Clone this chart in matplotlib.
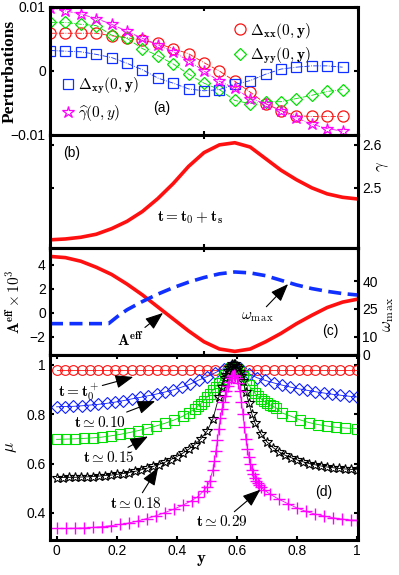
import numpy as np
import matplotlib
matplotlib.use("Agg")
import matplotlib.pyplot as plt
from matplotlib.lines import Line2D

plt.rcParams["font.family"] = ["Liberation Sans", "DejaVu Sans"]
plt.rcParams["mathtext.fontset"] = "cm"
plt.rcParams["font.size"] = 10

# ---------------- panel (a): perturbations ----------------
y_a = [0.00, 0.05, 0.10, 0.15, 0.20, 0.25, 0.30, 0.35, 0.40, 0.45,
       0.50, 0.55, 0.60, 0.65, 0.70, 0.75, 0.80, 0.85, 0.90, 0.95]
dxx = [0.0059, 0.0059, 0.0059, 0.0059, 0.0055, 0.0052, 0.0048, 0.0043, 0.0035, 0.0027,
       0.0013, 0.0000, -0.0016, -0.0033, -0.0051, -0.0062, -0.0070, -0.0071, -0.0071, -0.0071]
dyy = [0.0076, 0.0076, 0.0073, 0.0071, 0.0056, 0.0051, 0.0035, 0.0024, 0.0011, -0.0005,
       -0.0019, -0.0029, -0.0046, -0.0051, -0.0048, -0.0048, -0.0043, -0.0038, -0.0032, -0.0029]
dxy = [0.0032, 0.0031, 0.0030, 0.0026, 0.0021, 0.0012, 0.0002, -0.0011, -0.0019, -0.0028,
       -0.0031, -0.0029, -0.0021, -0.0015, -0.0005, 0.0003, 0.0006, 0.0008, 0.0008, 0.0006]
ghat = [0.0098, 0.0094, 0.0089, 0.0082, 0.0073, 0.0062, 0.0051, 0.0041, 0.0030, 0.0016,
        0.0000, -0.0016, -0.0027, -0.0043, -0.0051, -0.0062, -0.0073, -0.0083, -0.0090, -0.0094]

# ---------------- panel (b): gamma ----------------
y_b = [0.00, 0.05, 0.10, 0.15, 0.20, 0.25, 0.30, 0.35, 0.40, 0.45, 0.50,
       0.55, 0.60, 0.65, 0.70, 0.75, 0.80, 0.85, 0.90, 0.95, 1.00]
gamma = [2.379, 2.381, 2.385, 2.392, 2.405, 2.422, 2.445, 2.475, 2.510, 2.550, 2.582,
         2.600, 2.605, 2.595, 2.568, 2.541, 2.519, 2.500, 2.486, 2.478, 2.474]

# ---------------- panel (c): A_eff and omega_max ----------------
y_c = y_b
aeff = [4.70, 4.60, 4.30, 3.80, 3.20, 2.40, 1.50, 0.50, -0.50, -1.50, -2.40,
        -3.00, -3.20, -3.00, -2.40, -1.70, -0.90, -0.20, 0.45, 0.90, 1.15]
y_w = [0.00, 0.05, 0.10, 0.15, 0.19, 0.22, 0.25, 0.30, 0.35, 0.40, 0.45, 0.50,
       0.55, 0.60, 0.65, 0.70, 0.75, 0.80, 0.85, 0.90, 0.95, 1.00]
wmax = [17.0, 17.0, 17.0, 17.0, 17.0, 21.0, 24.5, 29.0, 33.0, 36.5, 39.5, 42.0,
        44.0, 45.0, 44.5, 43.0, 40.5, 38.0, 36.0, 34.5, 33.3, 32.5]

# ---------------- panel (d): mu ----------------
y_d1 = [k / 36 for k in range(37)]
mu_t0 = [0.978] * 37
mu_010 = [0.830, 0.831, 0.832, 0.834, 0.837, 0.840, 0.844, 0.849, 0.855, 0.862,
          0.868, 0.875, 0.882, 0.890, 0.899, 0.910, 0.922, 0.938, 0.952, 0.968,
          0.985, 0.995, 0.988, 0.965, 0.948, 0.937, 0.927, 0.918, 0.910, 0.903,
          0.897, 0.891, 0.886, 0.881, 0.877, 0.873, 0.870]

y_d15 = [0, 0.03, 0.06, 0.09, 0.12, 0.15, 0.18, 0.21, 0.24, 0.27, 0.30, 0.33, 0.36,
         0.39, 0.42, 0.44, 0.46, 0.47, 0.48, 0.49, 0.50, 0.51, 0.52, 0.53, 0.54, 0.55,
         0.56, 0.57, 0.58, 0.59, 0.60, 0.61, 0.62, 0.63, 0.64, 0.65, 0.66, 0.67, 0.68,
         0.69, 0.70, 0.71, 0.72, 0.73, 0.75, 0.78, 0.81, 0.84, 0.87, 0.90, 0.93, 0.96, 1.0]
mu_015 = [0.698, 0.699, 0.700, 0.702, 0.704, 0.707, 0.712, 0.718, 0.725, 0.733, 0.742,
          0.752, 0.763, 0.776, 0.792, 0.806, 0.822, 0.832, 0.843, 0.855, 0.868, 0.882,
          0.897, 0.912, 0.928, 0.944, 0.960, 0.975, 0.986, 0.990, 0.985, 0.972, 0.955,
          0.937, 0.918, 0.900, 0.885, 0.872, 0.862, 0.853, 0.845, 0.838, 0.832, 0.826,
          0.805, 0.792, 0.777, 0.766, 0.758, 0.752, 0.747, 0.744, 0.741]

y_d18 = [0, 0.02, 0.04, 0.06, 0.08, 0.10, 0.12, 0.14, 0.16, 0.18, 0.20, 0.22, 0.24,
         0.26, 0.28, 0.30, 0.32, 0.34, 0.36, 0.38, 0.40, 0.42, 0.44, 0.46, 0.48, 0.50,
         0.52, 0.54, 0.55, 0.56, 0.565, 0.57, 0.575, 0.58, 0.585, 0.59, 0.595, 0.60,
         0.605, 0.61, 0.615, 0.62, 0.63, 0.64, 0.65, 0.66, 0.68, 0.70, 0.72, 0.74, 0.76,
         0.78, 0.80, 0.82, 0.84, 0.86, 0.88, 0.90, 0.92, 0.94, 0.96, 0.98, 1.0]
mu_018 = [0.543, 0.543, 0.544, 0.544, 0.545, 0.546, 0.547, 0.549, 0.551, 0.553, 0.556,
          0.559, 0.563, 0.568, 0.574, 0.581, 0.588, 0.596, 0.605, 0.616, 0.628, 0.642,
          0.658, 0.677, 0.700, 0.730, 0.780, 0.870, 0.910, 0.945, 0.960, 0.975, 0.988,
          0.997, 1.003, 1.005, 1.003, 0.997, 0.987, 0.972, 0.955, 0.935, 0.890, 0.845,
          0.800, 0.765, 0.720, 0.688, 0.665, 0.647, 0.634, 0.624, 0.615, 0.607, 0.600,
          0.595, 0.590, 0.586, 0.583, 0.580, 0.578, 0.576, 0.575]

y_d29 = [0, 0.03, 0.06, 0.09, 0.12, 0.15, 0.18, 0.21, 0.24, 0.27, 0.30, 0.33, 0.36,
         0.39, 0.42, 0.45, 0.47, 0.49, 0.50, 0.51, 0.52, 0.525, 0.53, 0.535, 0.54,
         0.545, 0.55, 0.555, 0.56, 0.565, 0.57, 0.575, 0.58, 0.585, 0.59, 0.595, 0.60,
         0.605, 0.61, 0.615, 0.62, 0.625, 0.63, 0.635, 0.64, 0.645, 0.65, 0.655, 0.66,
         0.665, 0.67, 0.675, 0.68, 0.69, 0.71, 0.74, 0.77, 0.80, 0.83, 0.86, 0.89,
         0.92, 0.95, 0.98, 1.0]
mu_029 = [0.337, 0.337, 0.338, 0.339, 0.341, 0.344, 0.348, 0.353, 0.359, 0.367, 0.377,
          0.388, 0.401, 0.415, 0.431, 0.450, 0.466, 0.490, 0.505, 0.530, 0.575, 0.610,
          0.650, 0.695, 0.740, 0.785, 0.820, 0.850, 0.875, 0.895, 0.915, 0.930, 0.945,
          0.955, 0.958, 0.955, 0.945, 0.925, 0.895, 0.850, 0.800, 0.750, 0.700, 0.660,
          0.625, 0.598, 0.575, 0.556, 0.542, 0.530, 0.520, 0.512, 0.505, 0.494, 0.476,
          0.455, 0.437, 0.420, 0.406, 0.395, 0.387, 0.380, 0.375, 0.371, 0.370]

RED, GREEN, BLUE, MAG = "#ff1010", "#00e000", "#1030ff", "#ff00ff"
BOLD = dict(fontsize=11)
ARROW = dict(arrowstyle="-|>,head_length=1.0,head_width=0.38", color="k", lw=0.8,
             shrinkA=0, shrinkB=0)


def style(ax, lw=2.2):
    for s in ax.spines.values():
        s.set_linewidth(lw)
    ax.tick_params(direction="in", length=3, width=1.5, top=True, right=True,
                   labelsize=10, pad=3)


def proxy(marker, ms, color):
    # legend entry that shows only the marker (as in the original figure)
    return Line2D([], [], ls="none", marker=marker, ms=ms, color=color, mfc="none", mew=0.9)


fig = plt.figure(figsize=(3.99, 5.75), dpi=100)
L, W = 50 / 399, 308 / 399


def frac(top, bot):
    return [L, 1 - bot / 575, W, (bot - top) / 575]


# (a)
ax_a = fig.add_axes(frac(7, 135))
kw = dict(lw=0.6, ls="-.", mew=0.9, mfc="none")
ax_a.plot(y_a, dxx, marker="o", ms=8, color=RED, **kw)
ax_a.plot(y_a, dyy, marker="D", ms=6.5, color=GREEN, **kw)
ax_a.plot(y_a, dxy, marker="s", ms=6.5, color=BLUE, **kw)
ax_a.plot(y_a, ghat, marker="*", ms=9, color=MAG, **kw)
ax_a.set_xlim(0, 1)
ax_a.set_ylim(-0.01, 0.01)
ax_a.set_xticks([0, 0.5, 1])
ax_a.set_xticklabels([])
ax_a.set_yticks([-0.01, 0, 0.01])
ax_a.set_yticklabels(["\u22120.01", "0", "0.01"])
style(ax_a)
ax_a.set_ylabel("Perturbations", family="Liberation Serif", fontweight="bold", fontsize=12.5)
ax_a.yaxis.set_label_coords(-0.105, 0.5)
leg1 = ax_a.legend([proxy("o", 8, RED), proxy("D", 6.5, GREEN)],
                   [r"$\mathbf{\Delta_{xx}(0,y)}$", r"$\mathbf{\Delta_{yy}(0,y)}$"],
                   loc="upper right", bbox_to_anchor=(0.89, 1.0), frameon=False,
                   handlelength=0.6, handletextpad=0.3, fontsize=11, labelspacing=0.3)
ax_a.add_artist(leg1)
ax_a.legend([proxy("s", 6.5, BLUE), proxy("*", 9, MAG)],
            [r"$\mathbf{\Delta_{xy}(0,y)}$", r"$\widehat{\gamma}(0,y)$"],
            loc="lower left", bbox_to_anchor=(0.0, -0.02), frameon=False,
            handlelength=0.6, handletextpad=0.3, fontsize=11, labelspacing=0.5)
ax_a.text(0.364, -0.0058, "(a)", ha="center", va="center", fontsize=10)

# (b)
ax_b = fig.add_axes(frac(135, 248))
ax_b.plot(y_b, gamma, color=RED, lw=2.6)
ax_b.set_xlim(0, 1)
ax_b.set_ylim(2.36, 2.623)
ax_b.set_xticks([0, 0.5, 1])
ax_b.set_xticklabels([])
ax_b.set_yticks([2.5, 2.6])
style(ax_b)
ax_b.tick_params(labelleft=False, labelright=True)
ax_b.yaxis.set_label_position("right")
ax_b.set_ylabel(r"$\gamma$", fontsize=12, rotation=90, va="center")
ax_b.yaxis.set_label_coords(1.08, 0.72)
ax_b.text(0.071, 2.581, "(b)", ha="center", va="center", fontsize=10)
ax_b.text(0.455, 2.43, r"$\mathbf{t=t_0+t_s}$", ha="center", va="center", **BOLD)

# (c)
ax_c = fig.add_axes(frac(248, 355))
ax_c.plot(y_c, aeff, color=RED, lw=2.6)
ax_c.set_xlim(0, 1)
ax_c.set_ylim(-3.5, 5.4)
ax_c.set_xticks([0, 0.5, 1])
ax_c.set_xticklabels([])
ax_c.set_yticks([-2, 0, 2, 4])
ax_c.set_yticklabels(["\u22122", "0", "2", "4"])
style(ax_c)
ax_c.tick_params(right=False)
ax_c.set_ylabel(r"$\mathbf{A^{eff}}\times 10^3$", fontsize=11)
ax_c.yaxis.set_label_coords(-0.09, 0.5)
ax_c2 = ax_c.twinx()
ax_c2.plot(y_w, wmax, color=BLUE, lw=2.6, ls="--", dashes=(3.6, 1.8))
ax_c2.set_ylim(0, 58)
ax_c2.set_yticks([0, 10, 25, 40])
style(ax_c2)
ax_c2.tick_params(left=False, top=False)
ax_c2.set_ylabel(r"$\omega_{\rm m\,ax}$", fontsize=12, rotation=90, va="center")
ax_c2.yaxis.set_label_coords(1.1, 0.38)
ax_c.annotate(r"$\mathbf{A^{eff}}$", xy=(0.367, 0.0), xytext=(0.26, -2.2),
              ha="center", va="center", arrowprops=ARROW, **BOLD)
ax_c.annotate(r"$\omega_{\rm m\,ax}$", xy=(0.773, 2.4), xytext=(0.672, -0.3),
              ha="center", va="center", arrowprops=ARROW, fontsize=11)
ax_c.text(0.91, -1.5, "(c)", ha="center", va="center", fontsize=10)

# (d)
ax_d = fig.add_axes(frac(355, 540))
kd = dict(lw=0.6, mfc="none", mew=0.8)
ax_d.plot(y_d1, mu_t0, marker="o", ms=7, color=RED, **kd)
ax_d.plot(y_d1, mu_010, marker="D", ms=6, color="#1020ff", **kd)
ax_d.plot(y_d15, mu_015, marker="s", ms=6.5, color=GREEN, **kd)
ax_d.plot(y_d18, mu_018, marker="*", ms=7.5, color="k", **kd)
ax_d.plot(y_d29, mu_029, marker="+", ms=8.5, color=MAG, lw=0.6, mew=1.0)
ax_d.set_xlim(-0.022, 1.003)
ax_d.set_ylim(0.29, 1.04)
ax_d.set_xticks([0, 0.2, 0.4, 0.6, 0.8, 1])
ax_d.set_xticklabels(["0", "0.2", "0.4", "0.6", "0.8", "1"])
ax_d.set_yticks([0.4, 0.6, 0.8, 1])
ax_d.set_yticklabels(["0.4", "0.6", "0.8", "1"])
style(ax_d)
ax_d.set_ylabel(r"$\mu$", fontsize=12)
ax_d.yaxis.set_label_coords(-0.1, 0.5)
ax_d.set_xlabel(r"$\mathbf{y}$", fontsize=12)
ax_d.xaxis.set_label_coords(0.49, -0.07)
ax_d.annotate(r"$\mathbf{t=t_0^+}$", xy=(0.255, 0.951), xytext=(0.074, 0.89),
              ha="center", va="center", arrowprops=ARROW, **BOLD)
ax_d.annotate(r"$\mathbf{t\simeq0.10}$", xy=(0.328, 0.853), xytext=(0.144, 0.767),
              ha="center", va="center", arrowprops=ARROW, **BOLD)
ax_d.annotate(r"$\mathbf{t\simeq0.15}$", xy=(0.304, 0.71), xytext=(0.175, 0.624),
              ha="center", va="center", arrowprops=ARROW, **BOLD)
ax_d.annotate(r"$\mathbf{t\simeq0.18}$", xy=(0.338, 0.584), xytext=(0.264, 0.44),
              ha="center", va="center", arrowprops=ARROW, **BOLD)
ax_d.annotate(r"$\mathbf{t\simeq0.29}$", xy=(0.678, 0.494), xytext=(0.551, 0.363),
              ha="center", va="center", arrowprops=ARROW, **BOLD)
ax_d.text(0.888, 0.486, "(d)", ha="center", va="center", fontsize=10)

fig.savefig("out.png", dpi=100)
